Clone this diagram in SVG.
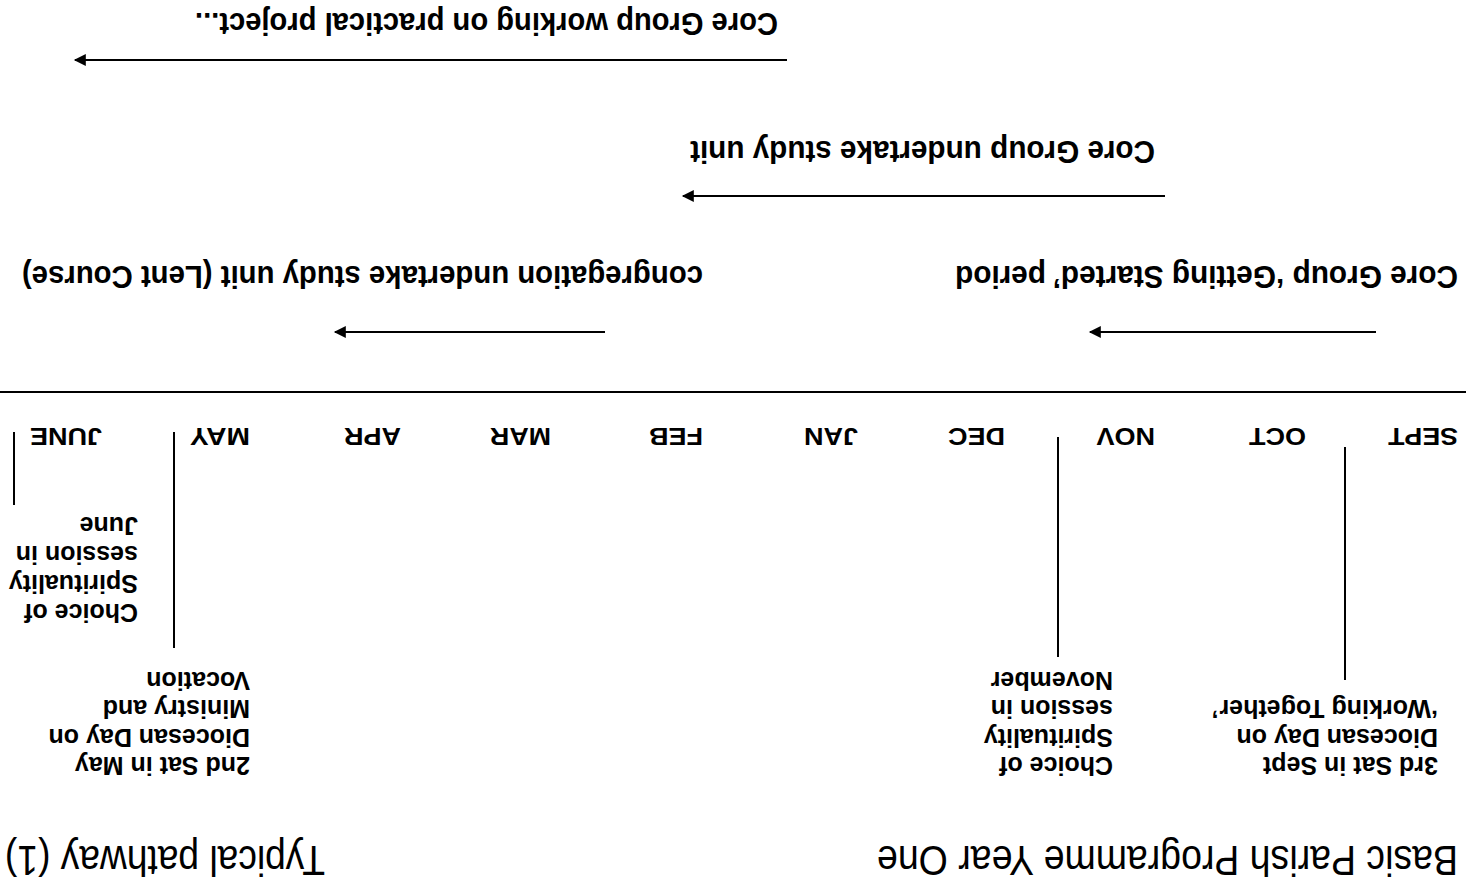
<svg xmlns="http://www.w3.org/2000/svg" width="1478" height="888" viewBox="0 0 1478 888">
<style>
text{font-family:"Liberation Sans",Arial,sans-serif;fill:#000}
.title{font-size:43px}
.lbl{font-size:31.7px;font-weight:bold}
.mon{font-size:24.5px;font-weight:bold}
.note{font-size:25px;font-weight:bold}
.ln{stroke:#000;stroke-width:2;fill:none}
.arr{stroke:#000;stroke-width:2;fill:none;marker-end:url(#ah)}
</style>
<defs>
<marker id="ah" viewBox="0 0 10 10" refX="9" refY="5" markerUnits="userSpaceOnUse" markerWidth="15" markerHeight="12" orient="auto">
<path d="M0,0 L10,5 L0,10 Z" fill="#000"/>
</marker>
</defs>
<rect width="1478" height="888" fill="#fff"/>
<g transform="rotate(180 739 444)">
<g id="titles">
<text class="title" x="20" y="42" textLength="581" lengthAdjust="spacingAndGlyphs">Basic Parish Programme Year One</text>
<text class="title" x="1153" y="42" textLength="320" lengthAdjust="spacingAndGlyphs">Typical pathway (1)</text>
</g>
<g id="months">
<text class="mon" x="20" y="460" textLength="70" lengthAdjust="spacingAndGlyphs">SEPT</text>
<text class="mon" x="172" y="460" textLength="57" lengthAdjust="spacingAndGlyphs">OCT</text>
<text class="mon" x="323" y="460" textLength="58.5" lengthAdjust="spacingAndGlyphs">NOV</text>
<text class="mon" x="473" y="460" textLength="57" lengthAdjust="spacingAndGlyphs">DEC</text>
<text class="mon" x="620" y="460" textLength="54" lengthAdjust="spacingAndGlyphs">JAN</text>
<text class="mon" x="775" y="460" textLength="54" lengthAdjust="spacingAndGlyphs">FEB</text>
<text class="mon" x="927" y="460" textLength="61" lengthAdjust="spacingAndGlyphs">MAR</text>
<text class="mon" x="1077" y="460" textLength="57" lengthAdjust="spacingAndGlyphs">APR</text>
<text class="mon" x="1228" y="460" textLength="60" lengthAdjust="spacingAndGlyphs">MAY</text>
<text class="mon" x="1376" y="460" textLength="72" lengthAdjust="spacingAndGlyphs">JUNE</text>
</g>
<g id="timeline">
<line class="ln" x1="12" y1="496" x2="1478" y2="496" stroke-width="2.5"/>
</g>
<g id="event-sept">
<line class="ln" x1="133" y1="208" x2="133" y2="441"/>
<text class="note" x="40" y="131">3rd Sat in Sept<tspan x="40" dy="28.5">Diocesan Day on</tspan><tspan x="40" dy="28.5">‘Working Together’</tspan></text>
</g>
<g id="event-nov">
<line class="ln" x1="420" y1="231" x2="420" y2="451"/>
<text class="note" x="365" y="131">Choice of<tspan x="365" dy="28.5">Spirituality</tspan><tspan x="365" dy="28.5">session in</tspan><tspan x="365" dy="28.5">November</tspan></text>
</g>
<g id="event-may">
<line class="ln" x1="1304" y1="240" x2="1304" y2="456"/>
<text class="note" x="1228" y="131">2nd Sat in May<tspan x="1228" dy="28.5">Diocesan Day on</tspan><tspan x="1228" dy="28.5">Ministry and</tspan><tspan x="1228" dy="28.5">Vocation</tspan></text>
</g>
<g id="event-june">
<line class="ln" x1="1464" y1="383" x2="1464" y2="456"/>
<text class="note" x="1340" y="284">Choice of<tspan x="1340" dy="29">Spirituality</tspan><tspan x="1340" dy="29">session in</tspan><tspan x="1340" dy="29">June</tspan></text>
</g>
<g id="phase-getting-started">
<text class="lbl" x="20" y="622" textLength="503" lengthAdjust="spacingAndGlyphs">Core Group ‘Getting Started’ period</text>
</g>
<g id="phase-lent">
<text class="lbl" x="775" y="622" textLength="681" lengthAdjust="spacingAndGlyphs">congregation undertake study unit (Lent Course)</text>
</g>
<g id="phase-study">
<text class="lbl" x="323" y="747" textLength="465" lengthAdjust="spacingAndGlyphs">Core Group undertake study unit</text>
</g>
<g id="phase-project">
<text class="lbl" x="700" y="875" textLength="583" lengthAdjust="spacingAndGlyphs">Core Group working on practical project...</text>
</g>
<g id="connectors">
<line class="arr" x1="102" y1="556" x2="388" y2="556"/>
<line class="arr" x1="873" y1="556" x2="1143" y2="556"/>
<line class="arr" x1="313" y1="692" x2="795" y2="692"/>
<line class="arr" x1="691" y1="828" x2="1403" y2="828"/>
</g>
</g>
</svg>
